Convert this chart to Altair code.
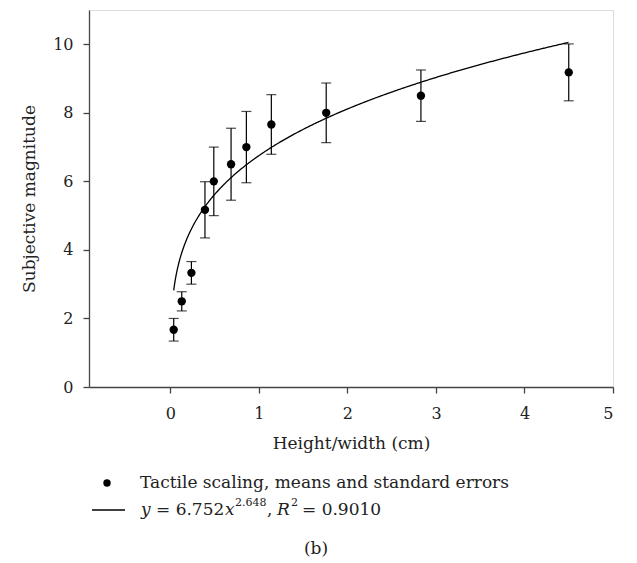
import altair as alt
import pandas as pd

# Tactile scaling: mean subjective magnitude (with standard errors) per stimulus size
HEIGHTS = [0.037, 0.128, 0.237, 0.39, 0.49, 0.685, 0.858, 1.14, 1.76, 2.83, 4.50]
MAGNITUDES = [1.67, 2.50, 3.33, 5.17, 6.00, 6.50, 7.00, 7.66, 8.00, 8.50, 9.18]
STD_ERRORS = [0.33, 0.28, 0.33, 0.82, 1.00, 1.05, 1.04, 0.87, 0.87, 0.75, 0.83]

# Power-law fit y = a * x^b
FIT_A = 6.752
FIT_B = 0.2648

X_TICKS = [0, 1, 2, 3, 4, 5]
Y_TICKS = [0, 2, 4, 6, 8, 10]

FONT = "DejaVu Serif"
INK = "#222222"
AXIS_GRAY = "#444444"
TEXT_SIZE = 17

df = pd.DataFrame({"height": HEIGHTS, "magnitude": MAGNITUDES, "se": STD_ERRORS})
df["lo"] = df["magnitude"] - df["se"]
df["hi"] = df["magnitude"] + df["se"]

x_scale = alt.Scale(domain=[-0.92, 5], nice=False, zero=False)
y_scale = alt.Scale(domain=[0, 11], nice=False)

x_axis = alt.Axis(
    values=X_TICKS, title="Height/width (cm)", grid=False,
    tickSize=6, labelPadding=12, labelFontSize=16, titleFontSize=TEXT_SIZE,
    labelFont=FONT, titleFont=FONT, titleFontWeight="normal",
    labelColor=INK, titleColor=INK, domainColor=AXIS_GRAY, tickColor=AXIS_GRAY,
    domainWidth=1.3, tickWidth=1.3, titleY=61, titleBaseline="alphabetic",
)
y_axis = alt.Axis(
    values=Y_TICKS, title="Subjective magnitude", grid=False,
    tickSize=6, labelPadding=10, labelFontSize=16, titleFontSize=TEXT_SIZE,
    labelFont=FONT, titleFont=FONT, titleFontWeight="normal",
    labelColor=INK, titleColor=INK, domainColor=AXIS_GRAY, tickColor=AXIS_GRAY,
    domainWidth=1.3, tickWidth=1.3, titleX=-55, titleBaseline="alphabetic",
)

def xenc(field):
    return alt.X(field, type="quantitative", scale=x_scale, axis=x_axis)

def yenc(field):
    return alt.Y(field, type="quantitative", scale=y_scale, axis=y_axis)

base = alt.Chart(df)

bars = base.mark_rule(color="black", strokeWidth=1.2).encode(
    x=xenc("height"), y=yenc("lo"), y2="hi"
)
caps_top = base.mark_tick(color="black", orient="horizontal", size=10, thickness=1.2).encode(
    x=xenc("height"), y=yenc("hi")
)
caps_bottom = base.mark_tick(color="black", orient="horizontal", size=10, thickness=1.2).encode(
    x=xenc("height"), y=yenc("lo")
)
points = base.mark_circle(color="black", size=70, opacity=1).encode(
    x=xenc("height"), y=yenc("magnitude")
)

fit = (
    alt.Chart(alt.sequence(HEIGHTS[0], HEIGHTS[-1] + 0.005, 0.01, as_="x"))
    .transform_calculate(y=f"{FIT_A} * pow(datum.x, {FIT_B})")
    .mark_line(color="black", strokeWidth=1.3)
    .encode(x=xenc("x"), y=yenc("y"))
)

# Legend and panel label, placed below the plot area (pixel offsets from plot origin)
OX, OY = 89, 10
legend_dot = alt.Chart(pd.DataFrame({"k": [0]})).mark_circle(color="black", size=55, opacity=1).encode(
    x=alt.value(107 - OX), y=alt.value(483 - OY)
)
legend_line = alt.Chart(pd.DataFrame({"k": [0]})).mark_rule(color="black", strokeWidth=1.3).encode(
    x=alt.value(92 - OX), x2=alt.value(125 - OX), y=alt.value(510 - OY)
)

text_pieces = [
    # text, x, baseline y, size, italic
    ("Tactile scaling, means and standard errors", 140, 488, TEXT_SIZE, False),
    ("y", 141, 515, TEXT_SIZE, True),
    ("= 6.752", 156, 515, TEXT_SIZE, False),
    ("x", 225, 515, TEXT_SIZE, True),
    ("2.648", 235, 506, 11, False),
    (",", 267, 515, TEXT_SIZE, False),
    ("R", 277, 515, TEXT_SIZE, True),
    ("2", 291, 506, 11, False),
    ("= 0.9010", 302, 515, TEXT_SIZE, False),
    ("(b)", 316, 554, TEXT_SIZE, False),
]

text_layers = []
for txt, px, py, fs, italic in text_pieces:
    align = "center" if txt == "(b)" else "left"
    mk = dict(text=txt, font=FONT, fontSize=fs, color=INK, align=align, baseline="alphabetic")
    if italic:
        mk["fontStyle"] = "italic"
    text_layers.append(
        alt.Chart(pd.DataFrame({"k": [0]})).mark_text(**mk).encode(
            x=alt.value(px - OX), y=alt.value(py - OY)
        )
    )

chart = (
    alt.layer(bars, caps_top, caps_bottom, fit, points, legend_dot, legend_line, *text_layers)
    .properties(
        width=524, height=377,
        autosize=alt.AutoSizeParams(type="none"),
        padding={"left": 89, "top": 10, "right": 24, "bottom": 176},
    )
    .configure_view(stroke=AXIS_GRAY, strokeWidth=1.3)
    .configure(background="white")
)

chart.save("out.html", embed_options={"renderer": "svg", "actions": False})
